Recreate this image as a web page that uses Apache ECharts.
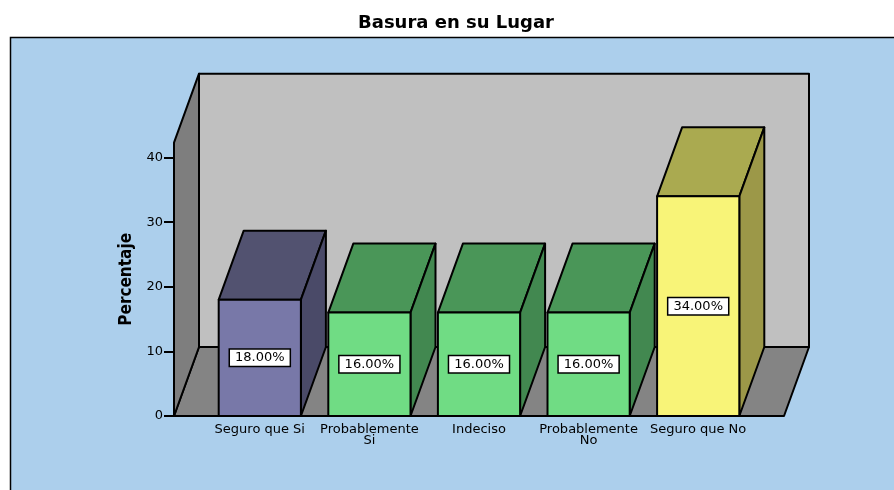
<!DOCTYPE html>
<html>
<head>
<meta charset="utf-8">
<title>Basura en su Lugar</title>
<script src="https://cdn.jsdelivr.net/npm/echarts@6/dist/echarts.min.js"></script>
<style>
  html, body { margin: 0; padding: 0; background: #fff; }
  #chart { width: 894px; height: 490px; }
</style>
</head>
<body>
<div id="chart"></div>
<script>
// values
const categories = ['Seguro que Si', 'Probablemente\nSi', 'Indeciso', 'Probablemente\nNo', 'Seguro que No']
const percentages = [18, 16, 16, 16, 34]
const yTicks = [0, 10, 20, 30, 40]
const yMax = 42.3

// look of the 3d box
const DX = 25, DY = -69      // depth of walls and bars
const PAD = 31               // floor runs past the first/last band
const BAR_RATIO = 0.75
const FONT = 'DejaVu Sans'
const barColors = [
  { front: '#7878a8', top: '#525270', side: '#4a4a68' },
  { front: '#70dc84', top: '#4a9658', side: '#428850' },
  { front: '#70dc84', top: '#4a9658', side: '#428850' },
  { front: '#70dc84', top: '#4a9658', side: '#428850' },
  { front: '#f8f478', top: '#aaaa50', side: '#9c9848' }
]
const edge = { stroke: '#000', lineWidth: 2, lineJoin: 'round' }

let myChart = echarts.init(document.getElementById('chart'))

const option = {
  animation: false,
  title: {
    text: 'Basura en su Lugar',
    left: 456,
    textAlign: 'center',
    top: 14,
    padding: 0,
    textStyle: { fontFamily: FONT, fontWeight: 'bold', fontSize: 18, color: '#000' }
  },
  graphic: [{
    type: 'rect',
    z: -10,
    shape: { x: 10.5, y: 37.5, width: 900, height: 470 },
    style: { fill: '#accfec', stroke: '#000', lineWidth: 1.5 }
  }],
  grid: { left: 174 + PAD, right: 894 - 784 + PAD, top: 416 - 273.3, bottom: 74 },
  xAxis: {
    type: 'category',
    data: categories,
    axisLine: { show: false },
    axisTick: { alignWithLabel: true, length: 5, lineStyle: { color: '#000', width: 2 } },
    axisLabel: { interval: 0, margin: 8, fontFamily: FONT, fontSize: 13, lineHeight: 11, color: '#000' },
    splitLine: { show: false }
  },
  yAxis: {
    type: 'value',
    min: 0,
    max: yMax,
    interval: 10,
    offset: PAD,
    name: 'Percentaje',
    nameLocation: 'middle',
    nameGap: 37,
    nameTextStyle: { fontFamily: "'Liberation Sans Narrow', 'DejaVu Sans Condensed', 'Liberation Sans'", fontWeight: 'bold', fontSize: 17, color: '#000' },
    axisLine: { show: false },
    axisTick: { show: true, length: 10, customValues: yTicks, lineStyle: { color: '#000', width: 2 } },
    axisLabel: { margin: 11, customValues: yTicks, fontFamily: FONT, fontSize: 13, color: '#000' },
    splitLine: { show: false }
  },
  series: [
    {
      // walls and floor
      type: 'custom',
      z: 1,
      silent: true,
      data: [[0, 0]],
      renderItem: function (params, api) {
        const cs = params.coordSys
        const xl = cs.x - PAD, xr = cs.x + cs.width + PAD
        const yb = api.coord([0, 0])[1], yt = api.coord([0, yMax])[1]
        return {
          type: 'group',
          children: [
            { type: 'rect', shape: { x: xl + DX, y: yt + DY, width: xr - xl, height: yb - yt }, style: Object.assign({ fill: '#c0c0c0' }, edge) },
            { type: 'polygon', shape: { points: [[xl, yb], [xr, yb], [xr + DX, yb + DY], [xl + DX, yb + DY]] }, style: Object.assign({ fill: '#848484' }, edge) },
            { type: 'polygon', shape: { points: [[xl, yb], [xl, yt], [xl + DX, yt + DY], [xl + DX, yb + DY]] }, style: Object.assign({ fill: '#7e7e7e' }, edge) }
          ]
        }
      }
    },
    {
      // 3d bars
      type: 'custom',
      z: 2,
      encode: { x: 0, y: 1 },
      data: percentages.map((v, i) => [i, v]),
      renderItem: function (params, api) {
        const i = api.value(0)
        const v = api.value(1)
        const base = api.coord([i, 0])
        const top = api.coord([i, v])
        const w = api.size([1, 0])[0] * BAR_RATIO
        const x0 = base[0] - w / 2, x1 = base[0] + w / 2
        const yb = base[1], yt = top[1]
        const c = barColors[i]
        return {
          type: 'group',
          children: [
            { type: 'polygon', shape: { points: [[x0, yt], [x1, yt], [x1 + DX, yt + DY], [x0 + DX, yt + DY]] }, style: Object.assign({ fill: c.top }, edge) },
            { type: 'polygon', shape: { points: [[x1, yb], [x1, yt], [x1 + DX, yt + DY], [x1 + DX, yb + DY]] }, style: Object.assign({ fill: c.side }, edge) },
            {
              type: 'rect',
              shape: { x: x0, y: yt, width: w, height: yb - yt },
              style: Object.assign({ fill: c.front }, edge),
              textContent: {
                style: {
                  text: v.toFixed(2) + '%',
                  fontFamily: FONT,
                  fontSize: 13,
                  fill: '#000',
                  backgroundColor: '#fff',
                  borderColor: '#000',
                  borderWidth: 1.5,
                  padding: [2, 5, 1, 5]
                }
              },
              textConfig: { position: 'inside' }
            }
          ]
        }
      }
    }
  ]
}

myChart.setOption(option)
</script>
</body>
</html>
